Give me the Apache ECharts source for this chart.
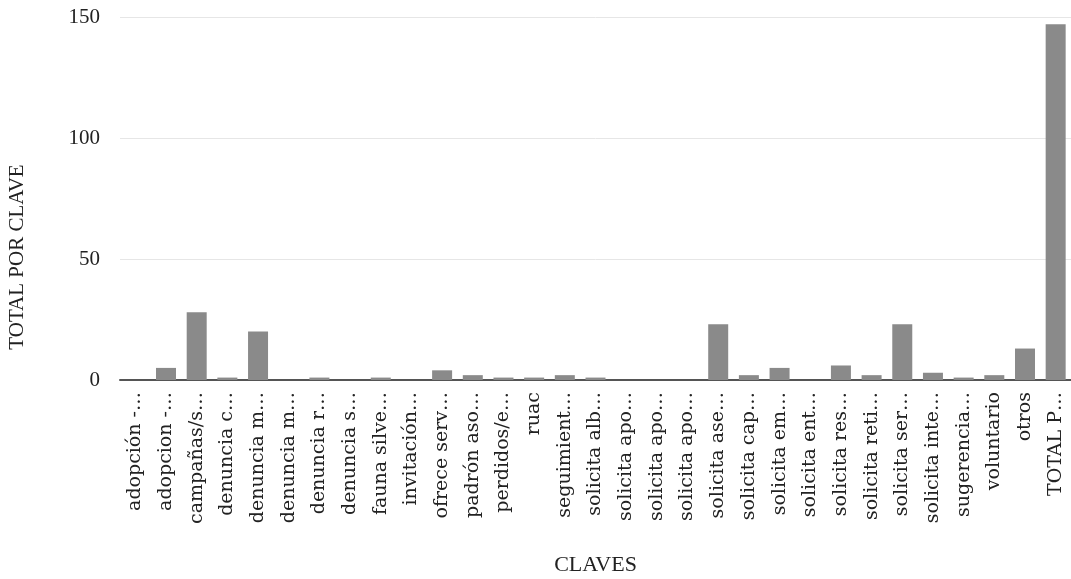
<!DOCTYPE html>
<html>
<head>
<meta charset="utf-8">
<script src="https://cdn.jsdelivr.net/npm/echarts@6/dist/echarts.min.js"></script>
<style>html,body{margin:0;padding:0;background:#fff;}#c{width:1071px;height:579px;}</style>
</head>
<body>
<div id="c"></div>
<script>
const categories = [
  'adopción -…','adopcion -…','campañas/s…','denuncia c…','denuncia m…','denuncia m…',
  'denuncia r…','denuncia s…','fauna silve…','invitación…','ofrece serv…','padrón aso…',
  'perdidos/e…','ruac','seguimient…','solicita alb…','solicita apo…','solicita apo…',
  'solicita apo…','solicita ase…','solicita cap…','solicita em…','solicita ent…','solicita res…',
  'solicita reti…','solicita ser…','solicita inte…','sugerencia…','voluntario','otros','TOTAL P…'
];
const totals = [0,5,28,1,20,0,1,0,1,0,4,2,1,1,2,1,0,0,0,23,2,5,0,6,2,23,3,1,2,13,147];
const yTicks = {min:0, max:150, interval:50};
const xTitle = 'CLAVES';
const yTitle = 'TOTAL POR CLAVE';

const chart = echarts.init(document.getElementById('c'), null, {renderer:'canvas'});
chart.setOption({
  animation:false,
  backgroundColor:'#ffffff',
  grid:{left:120, right:0, top:17, bottom:199, containLabel:false, outerBoundsMode:'none'},
  graphic:[{
    type:'text',
    x:17, y:257,
    rotation:Math.PI/2,
    style:{text:yTitle, fontFamily:'Liberation Serif', fontSize:21, fill:'#222', align:'center', verticalAlign:'middle'}
  }],
  xAxis:{
    type:'category',
    data:categories,
    name:xTitle,
    nameLocation:'middle',
    nameGap:174,
    nameTextStyle:{fontFamily:'Liberation Serif', fontSize:22, color:'#222'},
    axisLine:{lineStyle:{color:'#555', width:2}},
    axisTick:{show:false},
    axisLabel:{interval:0, rotate:90, margin:12, fontFamily:'DejaVu Serif', fontSize:19, color:'#222'}
  },
  yAxis:{
    type:'value',
    min:yTicks.min, max:yTicks.max, interval:yTicks.interval,
    axisLine:{show:false},
    axisTick:{show:false},
    splitLine:{lineStyle:{color:'#e6e6e6', width:1}},
    axisLabel:{margin:20, fontFamily:'Liberation Serif', fontSize:21, color:'#222'}
  },
  series:[{
    type:'bar',
    data:totals,
    barWidth:20,
    itemStyle:{color:'#8a8a8a'}
  }]
});
</script>
</body>
</html>
